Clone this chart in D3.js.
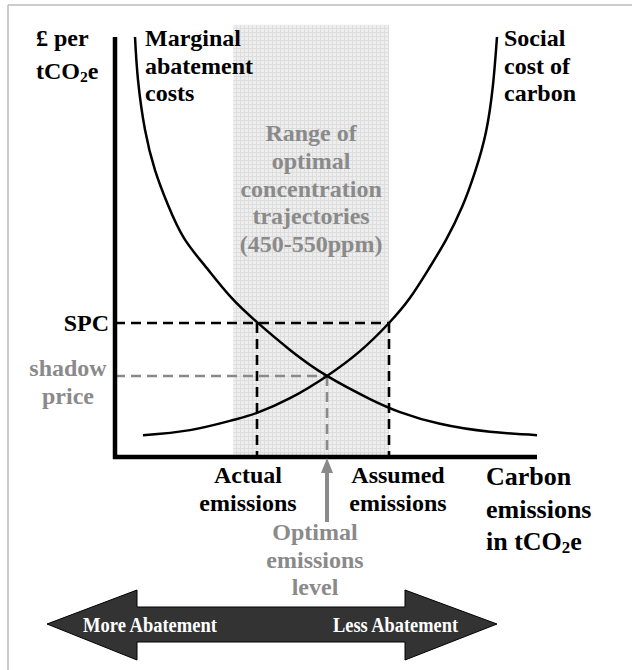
<!DOCTYPE html>
<html><head><meta charset="utf-8">
<script src="https://cdn.jsdelivr.net/npm/d3@7/dist/d3.min.js"></script>
<style>body{margin:0;background:#fff}svg{display:block}text{font-family:"Liberation Serif","Times New Roman",serif;font-weight:bold}</style>
</head><body><svg id="c" width="632" height="670"></svg>
<script>
// Curves (x = emissions, y = £ per tCO2e), arbitrary units 0-100
const macX = [4.74, 5.45, 7.11, 9.48, 12.56, 16.35, 21.33, 27.25, 33.65, 41.47, 50.24, 60.43, 67.54, 77.01, 88.86, 100];
const macY = [100.0, 89.8, 77.9, 68.3, 60.0, 52.1, 45.5, 38.3, 32.1, 25.5, 19.3, 13.8, 10.7, 7.9, 6.0, 5.2];
const sccX = [6.64, 17.77, 27.96, 33.65, 41.47, 50.24, 58.06, 64.93, 69.91, 74.17, 78.44, 82.23, 85.31, 87.91, 89.57, 90.52];
const sccY = [5.2, 6.4, 8.8, 10.5, 14.0, 19.3, 25.2, 31.9, 37.9, 44.5, 51.7, 59.5, 67.9, 77.4, 88.6, 100.0];
const priceLevels = {spc: 31.9, shadow: 19.3};
const emissionLevels = {actual: 33.65, optimal: 50.24, assumed: 64.93};
const rangeX = [28.0, 64.93];
const rangeTop = 102.9;

const svg = d3.select("#c");
const x = d3.scaleLinear().domain([0, 100]).range([115, 537]);
const y = d3.scaleLinear().domain([0, 100]).range([457, 37]);
const grey = "#8a8a8a";

// frame
svg.append("line").attr("x1", 8).attr("x2", 632).attr("y1", 5).attr("y2", 5).attr("stroke", "#bbb").attr("stroke-width", 1.5);
svg.append("line").attr("x1", 8).attr("x2", 8).attr("y1", 5).attr("y2", 670).attr("stroke", "#bbb").attr("stroke-width", 1.5);

// shaded range with grid pattern
const defs = svg.append("defs");
const pat = defs.append("pattern").attr("id", "grid").attr("patternUnits", "userSpaceOnUse")
  .attr("width", 4).attr("height", 4);
pat.append("rect").attr("width", 4).attr("height", 4).attr("fill", "#eeeeee");
pat.append("path").attr("d", "M0,0.5H4M0.5,0V4").attr("stroke", "#dddddd").attr("stroke-width", 1).attr("fill", "none");
svg.append("rect").attr("x", x(rangeX[0])).attr("y", y(rangeTop))
  .attr("width", x(rangeX[1]) - x(rangeX[0])).attr("height", y(0) - y(rangeTop))
  .attr("fill", "url(#grid)");

// range text
const rangeLines = ["Range of", "optimal", "concentration", "trajectories", "(450-550ppm)"];
svg.append("g").selectAll("text").data(rangeLines).join("text")
  .attr("x", (x(rangeX[0]) + x(rangeX[1])) / 2).attr("y", (d, i) => 141 + i * 27.8)
  .attr("text-anchor", "middle").attr("font-size", 24).attr("fill", grey).text(d => d);

// dashed guides
const dash = "10,6";
svg.append("line").attr("x1", x(0)).attr("x2", x(emissionLevels.assumed))
  .attr("y1", y(priceLevels.spc)).attr("y2", y(priceLevels.spc))
  .attr("stroke", "#000").attr("stroke-width", 2.6).attr("stroke-dasharray", dash);
[emissionLevels.actual, emissionLevels.assumed].forEach(v => {
  svg.append("line").attr("x1", x(v)).attr("x2", x(v)).attr("y1", y(priceLevels.spc)).attr("y2", y(0))
    .attr("stroke", "#000").attr("stroke-width", 2.6).attr("stroke-dasharray", dash);
});
svg.append("line").attr("x1", x(0)).attr("x2", x(emissionLevels.optimal))
  .attr("y1", y(priceLevels.shadow)).attr("y2", y(priceLevels.shadow))
  .attr("stroke", grey).attr("stroke-width", 2.6).attr("stroke-dasharray", dash);
svg.append("line").attr("x1", x(emissionLevels.optimal)).attr("x2", x(emissionLevels.optimal))
  .attr("y1", y(priceLevels.shadow)).attr("y2", y(0))
  .attr("stroke", grey).attr("stroke-width", 2.6).attr("stroke-dasharray", dash);

// curves
const line = d3.line().x(d => x(d[0])).y(d => y(d[1])).curve(d3.curveNatural);
svg.append("path").attr("d", line(d3.zip(macX, macY))).attr("fill", "none").attr("stroke", "#000").attr("stroke-width", 2.5);
svg.append("path").attr("d", line(d3.zip(sccX, sccY))).attr("fill", "none").attr("stroke", "#000").attr("stroke-width", 2.5);

// axes
svg.append("line").attr("x1", x(0)).attr("x2", x(0)).attr("y1", y(100)).attr("y2", y(0) + 2).attr("stroke", "#000").attr("stroke-width", 4.5);
svg.append("line").attr("x1", x(0) - 2).attr("x2", x(100)).attr("y1", y(0)).attr("y2", y(0)).attr("stroke", "#000").attr("stroke-width", 4.5);

// optimal arrow
const ox = x(emissionLevels.optimal);
svg.append("line").attr("x1", ox).attr("x2", ox).attr("y1", 522).attr("y2", 470).attr("stroke", grey).attr("stroke-width", 4);
svg.append("path").attr("d", `M${ox},${y(0) + 1}L${ox - 6},${y(0) + 16}L${ox + 6},${y(0) + 16}Z`).attr("fill", grey);

// text helper
function lines(xp, yp, arr, opts) {
  const t = svg.append("text").attr("x", xp).attr("y", yp).attr("font-size", opts.size || 24)
    .attr("fill", opts.fill || "#000").attr("text-anchor", opts.anchor || "start");
  arr.forEach((s, i) => {
    const ts = t.append("tspan").attr("x", xp).attr("y", yp + i * (opts.lh || 27.5));
    if (Array.isArray(s)) {
      s.forEach(p => { const sp = ts.append("tspan").text(p.t); if (p.sub) sp.attr("font-size", (opts.size || 24) * 0.65).attr("dy", 3); else if (p.after) sp.attr("dy", -3); });
    } else ts.text(s);
  });
}
lines(36, 46, ["£ per", [{t: "tCO"}, {t: "2", sub: true}, {t: "e", after: true}]], {lh: 33});
lines(145, 46, ["Marginal", "abatement", "costs"], {});
lines(504, 46, ["Social", "cost of", "carbon"], {});
lines(109, 331, ["SPC"], {anchor: "end"});
lines(68, 376, ["shadow", "price"], {anchor: "middle", fill: grey});
lines(x(emissionLevels.actual) - 9, 483, ["Actual", "emissions"], {anchor: "middle"});
lines(x(emissionLevels.assumed) + 9, 483, ["Assumed", "emissions"], {anchor: "middle"});
lines(x(emissionLevels.optimal) - 12, 540, ["Optimal", "emissions", "level"], {anchor: "middle", fill: grey});
lines(486, 485, ["Carbon", "emissions", [{t: "in tCO"}, {t: "2", sub: true}, {t: "e", after: true}]], {size: 26, lh: 32.5});

// bottom double arrow
const ay = 624;
svg.append("path").attr("d", `M47,${ay}L137,590L137,607L405,607L405,590L497,${ay}L405,660L405,642L137,642L137,660Z`)
  .attr("fill", "#333").attr("stroke", "#000").attr("stroke-width", 1);
svg.append("text").attr("x", 83).attr("y", 632).attr("font-size", 20).attr("fill", "#fff")
  .attr("textLength", 134).attr("lengthAdjust", "spacingAndGlyphs").text("More Abatement");
svg.append("text").attr("x", 333).attr("y", 632).attr("font-size", 20).attr("fill", "#fff")
  .attr("textLength", 125).attr("lengthAdjust", "spacingAndGlyphs").text("Less Abatement");
</script></body></html>
